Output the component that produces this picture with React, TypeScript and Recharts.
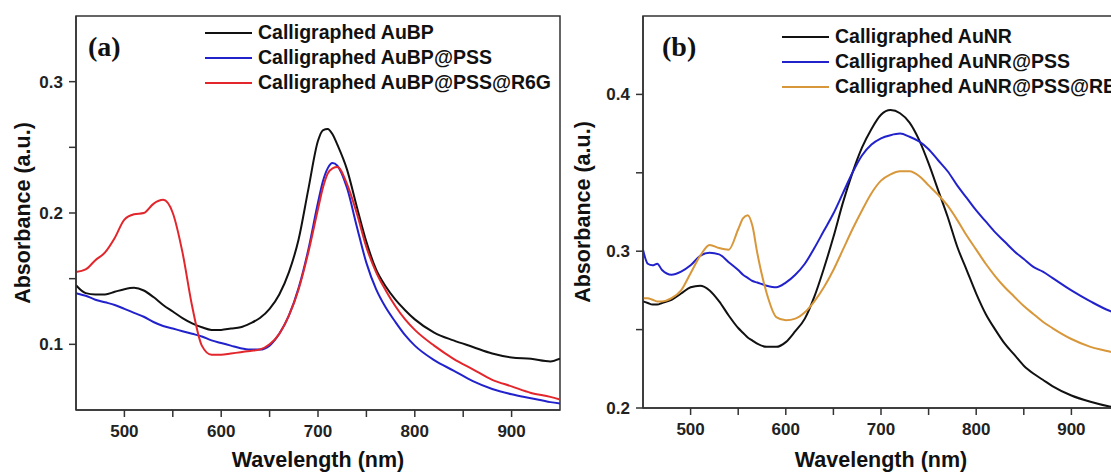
import { LineChart, Line, XAxis, YAxis, ReferenceArea, Legend } from 'recharts'

const FONT = '"Liberation Sans", Arial, Helvetica, sans-serif'
const SERIF = '"Liberation Serif", "Times New Roman", serif'
const AXIS = '#333'

// panel (a): gold bipyramids
const wlA = [450, 460, 470, 480, 490, 500, 510, 520, 530, 540, 550, 560, 570, 580, 590, 600, 610, 620, 630, 640, 650, 660, 670, 680, 690, 700, 705, 710, 715, 720, 730, 740, 750, 760, 770, 780, 790, 800, 820, 840, 860, 880, 900, 920, 940, 950]
const auBP = [
  0.145, 0.139, 0.138, 0.138, 0.14, 0.142, 0.143, 0.141, 0.136, 0.13,
  0.125, 0.12, 0.116, 0.113, 0.111, 0.111, 0.112, 0.113, 0.116, 0.12,
  0.127, 0.138, 0.155, 0.18, 0.218, 0.255, 0.263, 0.264, 0.26, 0.252,
  0.233, 0.205, 0.178, 0.157, 0.144, 0.134, 0.126, 0.119,
  0.109, 0.103, 0.098, 0.093, 0.09, 0.089, 0.087, 0.089,
]
const auBPpss = [
  0.139, 0.137, 0.134, 0.132, 0.13, 0.127, 0.124, 0.121, 0.117, 0.114,
  0.112, 0.11, 0.108, 0.106, 0.103, 0.101, 0.099, 0.097, 0.096, 0.096,
  0.099, 0.108, 0.122, 0.143, 0.172, 0.208, 0.224, 0.234, 0.238, 0.236,
  0.219, 0.19, 0.162, 0.142, 0.128, 0.117, 0.107, 0.099,
  0.088, 0.08, 0.072, 0.066, 0.062, 0.059, 0.056, 0.055,
]
const auBPr6g = [
  0.155, 0.157, 0.164, 0.17, 0.181, 0.195, 0.199, 0.2, 0.207, 0.21,
  0.2, 0.17, 0.129, 0.099, 0.092, 0.092, 0.093, 0.094, 0.095, 0.096,
  0.1, 0.108, 0.122, 0.142, 0.17, 0.203, 0.219, 0.23, 0.234, 0.235,
  0.222, 0.2, 0.174, 0.155, 0.141, 0.129, 0.119, 0.111,
  0.099, 0.089, 0.081, 0.073, 0.068, 0.063, 0.06, 0.058,
]
const namesA = ['Calligraphed AuBP', 'Calligraphed AuBP@PSS', 'Calligraphed AuBP@PSS@R6G']
const colorsA = ['#111111', '#2222cc', '#e2262c']

// panel (b): gold nanorods
const wlB = [450, 455, 460, 465, 470, 480, 490, 500, 510, 520, 530, 540, 550, 555, 560, 565, 570, 580, 590, 600, 610, 620, 630, 640, 650, 660, 670, 680, 690, 700, 710, 720, 730, 740, 750, 760, 770, 780, 790, 800, 810, 820, 830, 840, 850, 860, 870, 880, 900, 920, 940, 950]
const auNR = [
  0.268, 0.267, 0.266, 0.266, 0.267,
  0.269, 0.273, 0.277, 0.278, 0.275, 0.268, 0.259, 0.251,
  0.248, 0.245, 0.243,
  0.241, 0.239, 0.239, 0.242, 0.249, 0.257, 0.271, 0.289, 0.309, 0.331,
  0.35, 0.366, 0.378, 0.387, 0.39, 0.388, 0.382, 0.371, 0.356, 0.339,
  0.322, 0.303, 0.288, 0.273, 0.26, 0.25, 0.241, 0.234, 0.227, 0.222,
  0.218, 0.214, 0.208, 0.204, 0.201, 0.2,
]
const auNRpss = [
  0.301, 0.292, 0.291, 0.292, 0.288,
  0.285, 0.287, 0.291, 0.297, 0.299, 0.298, 0.293, 0.288,
  0.285, 0.283, 0.281,
  0.28, 0.278, 0.277, 0.28, 0.285, 0.292, 0.302, 0.313, 0.324, 0.337,
  0.35, 0.361, 0.368, 0.372, 0.374, 0.375, 0.373, 0.37, 0.365, 0.358,
  0.351, 0.342, 0.334, 0.326, 0.319, 0.312, 0.306, 0.3, 0.295, 0.29,
  0.287, 0.283, 0.275, 0.268, 0.262, 0.26,
]
const auNRrb = [
  0.27, 0.27, 0.269, 0.268, 0.268,
  0.27, 0.275, 0.286, 0.297, 0.304, 0.302, 0.301, 0.314,
  0.321, 0.323, 0.316,
  0.299, 0.273, 0.258, 0.256, 0.257, 0.261, 0.268, 0.277, 0.288, 0.301,
  0.314, 0.326, 0.337, 0.345, 0.349, 0.351, 0.351, 0.348, 0.342, 0.336,
  0.329, 0.32, 0.31, 0.301, 0.292, 0.284, 0.277, 0.271, 0.265, 0.26,
  0.255, 0.251, 0.244, 0.239, 0.236, 0.234,
]
const namesB = ['Calligraphed AuNR', 'Calligraphed AuNR@PSS', 'Calligraphed AuNR@PSS@RB']
const colorsB = ['#111111', '#2222cc', '#d8973a']

const xTicks = [500, 550, 600, 650, 700, 750, 800, 850, 900]
const yTicksA = [0.1, 0.15, 0.2, 0.25, 0.3]
const yTicksB = [0.2, 0.25, 0.3, 0.35, 0.4]

const rowsA = wlA.map((wl, i) => ({ wl, s0: auBP[i], s1: auBPpss[i], s2: auBPr6g[i] }))
const rowsB = wlB.map((wl, i) => ({ wl, s0: auNR[i], s1: auNRpss[i], s2: auNRrb[i] }))

const tickStyle = { fontSize: 17, fontWeight: 700, fill: '#222', fontFamily: FONT }
const titleStyle = { fontSize: 21.5, fontWeight: 700, fill: '#111', fontFamily: FONT, textAnchor: 'middle' as const }

function majorOnly(v: number) {
  const t = v * 10
  return Math.abs(t - Math.round(t)) < 1e-6 ? v.toFixed(1) : ''
}

function LegendBox({ payload }: any) {
  return (
    <div style={{ fontFamily: FONT, fontWeight: 700, fontSize: 19.5, color: '#111', whiteSpace: 'nowrap' }}>
      {(payload || []).map((p: any) => (
        <div key={p.value} style={{ display: 'flex', alignItems: 'center', height: 25 }}>
          <span style={{ display: 'inline-block', width: 47, height: 2, background: p.color, marginRight: 6 }} />
          <span>{p.value}</span>
        </div>
      ))}
    </div>
  )
}

interface PanelProps {
  data: any[]
  names: string[]
  colors: string[]
  yDomain: [number, number]
  yTicks: number[]
  yWidth: number
  xHeight: number
  right: number
  legendLeft: number
  legendTop: number
}

function Panel({ data, names, colors, yDomain, yTicks, yWidth, xHeight, right, legendLeft, legendTop }: PanelProps) {
  return (
    <LineChart width={580} height={472} data={data} margin={{ top: 16, right, bottom: 0, left: 0 }}>
      <ReferenceArea x1={450} x2={950} y1={yDomain[0]} y2={yDomain[1]} fill="none" stroke={AXIS} strokeWidth={1.5} ifOverflow="visible" />
      <XAxis
        dataKey="wl"
        type="number"
        domain={[450, 950]}
        ticks={xTicks}
        allowDataOverflow
        height={xHeight}
        tickSize={7}
        tickMargin={8}
        tickFormatter={(v: number) => (v % 100 === 0 ? String(v) : '')}
        tick={tickStyle}
        axisLine={{ stroke: AXIS, strokeWidth: 1.5 }}
        tickLine={{ stroke: AXIS, strokeWidth: 1.5 }}
        label={{ value: 'Wavelength (nm)', position: 'insideBottom', offset: 5, style: titleStyle }}
      />
      <YAxis
        type="number"
        domain={yDomain}
        ticks={yTicks}
        allowDataOverflow
        width={yWidth}
        tickSize={7}
        tickMargin={6}
        tickFormatter={majorOnly}
        tick={tickStyle}
        axisLine={{ stroke: AXIS, strokeWidth: 1.5 }}
        tickLine={{ stroke: AXIS, strokeWidth: 1.5 }}
        label={{ value: 'Absorbance (a.u.)', angle: -90, position: 'insideLeft', offset: 22, style: titleStyle }}
      />
      <Legend
        layout="vertical"
        align="center"
        verticalAlign="middle"
        content={<LegendBox />}
        wrapperStyle={{ left: legendLeft, top: legendTop, width: 'auto' }}
      />
      {names.map((name, i) => (
        <Line
          key={name}
          type="monotone"
          dataKey={`s${i}`}
          name={name}
          stroke={colors[i]}
          strokeWidth={2}
          dot={false}
          isAnimationActive={false}
        />
      ))}
    </LineChart>
  )
}

const tagStyle = { position: 'absolute' as const, fontFamily: SERIF, fontWeight: 700, fontSize: 28, lineHeight: '30px', color: '#111' }

export default function App() {
  return (
    <div style={{ position: 'absolute', left: 0, top: 0, width: 1111, height: 472, overflow: 'hidden', background: '#fff' }}>
      <div style={{ position: 'absolute', left: 0, top: 0 }}>
        <Panel data={rowsA} names={namesA} colors={colorsA} yDomain={[0.05, 0.35]} yTicks={yTicksA} yWidth={76} xHeight={62} right={20} legendLeft={205} legendTop={20} />
      </div>
      <div style={{ position: 'absolute', left: 560, top: 0 }}>
        <Panel data={rowsB} names={namesB} colors={colorsB} yDomain={[0.2, 0.45]} yTicks={yTicksB} yWidth={83} xHeight={64} right={21} legendLeft={222} legendTop={24} />
      </div>
      <div style={{ ...tagStyle, left: 88, top: 32 }}>(a)</div>
      <div style={{ ...tagStyle, left: 662, top: 32 }}>(b)</div>
    </div>
  )
}
